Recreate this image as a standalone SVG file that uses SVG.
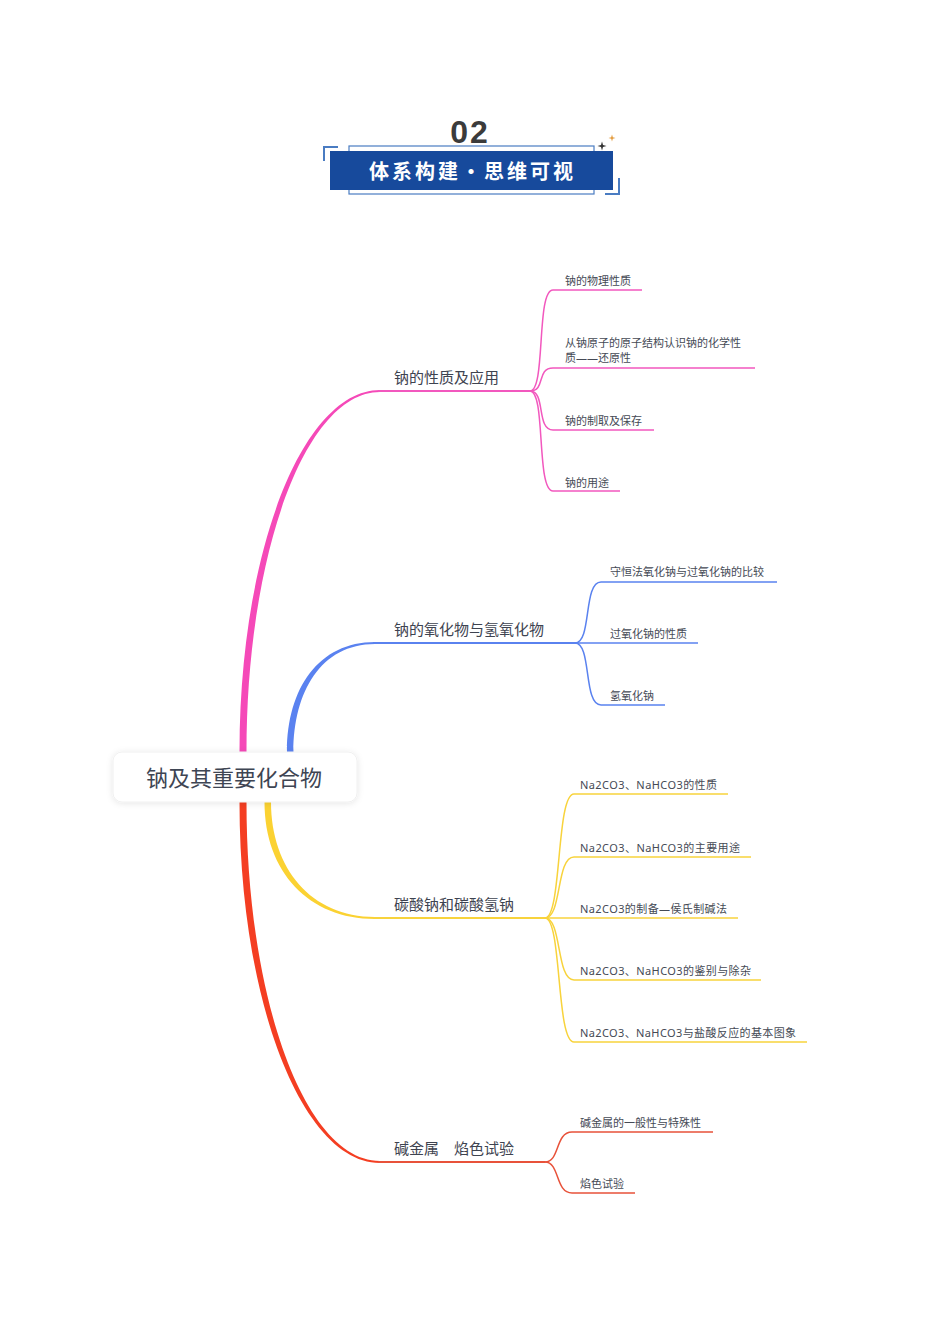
<svg xmlns="http://www.w3.org/2000/svg" width="950" height="1344" viewBox="0 0 950 1344">
<defs>
<style>
.l1{font-family:"Noto Sans CJK SC","Noto Sans",sans-serif;font-size:15px;fill:#3e4350}
.l2{font-family:"Noto Sans","Noto Sans CJK SC",sans-serif;font-size:11px;fill:#454a55}
.pk{stroke:#f258be;fill:none}
.bl{stroke:#5a82ef;fill:none}
.yl{stroke:#f8d33c;fill:none}
.rd{stroke:#e8523a;fill:none}
.w2{stroke-width:2}
.w15{stroke-width:1.5}
.brk{stroke:#4a7cc2;stroke-width:2;fill:none}
</style>
<filter id="sh" x="-10%" y="-30%" width="120%" height="160%">
<feDropShadow dx="0" dy="1" stdDeviation="3" flood-color="#000" flood-opacity="0.10"/>
</filter>
</defs>
<rect width="950" height="1344" fill="#fff"/>

<g id="header">
<text x="470" y="143" text-anchor="middle" font-family="Liberation Sans, sans-serif" font-weight="bold" font-size="32" letter-spacing="2" fill="#3b3b3b">02</text>
<rect x="349" y="146" width="245" height="48" fill="none" stroke="#4a7cc2" stroke-width="1.2"/>
<rect x="330" y="151" width="283" height="39" fill="#174a9c"/>
<path class="brk" d="M324,161 V147 H338"/>
<path class="brk" d="M619,178 V194 H605"/>
<path d="M602,141.5 L603,145 L606.5,146 L603,147 L602,150.5 L601,147 L597.5,146 L601,145 Z" fill="#333"/>
<path d="M612,134.5 L612.8,137.2 L615.5,138 L612.8,138.8 L612,141.5 L611.2,138.8 L608.5,138 L611.2,137.2 Z" fill="#e39a3b"/>
<text x="369" y="178.5" font-family="Noto Sans CJK SC, sans-serif" font-weight="bold" font-size="20" letter-spacing="3" fill="#fff">体系构建・思维可视</text>
</g>

<g id="connectors">
<path d="M239.5,752 C239.5,551 303,390 380,390 L380,392 C305,392 246.5,555 246.5,752 Z" fill="#f549b8"/>
<path d="M287,752 C287,688 319,642 375,642 L375,644 C321,644 293.5,692 293.5,752 Z" fill="#5a82f0"/>
<path d="M264.5,802 C264.5,872 309,919 375,919 L375,917 C311,917 271,868 271,802 Z" fill="#fbd232"/>
<path d="M239.5,802 C239.5,1003 303,1163 380,1163 L380,1161 C305,1161 246.5,999 246.5,802 Z" fill="#f43e22"/>

<path class="pk w2" d="M378,391 H530"/>
<path class="bl w2" d="M373,643 H578"/>
<path class="yl w2" d="M373,918 H545"/>
<path class="rd w2" d="M378,1162 H545"/>

<path class="pk w15" d="M530,391 C546,391 536,290 553,290 H642"/>
<path class="pk w15" d="M530,391 C546,391 536,368 553,368 H755"/>
<path class="pk w15" d="M530,391 C546,391 536,430 553,430 H654"/>
<path class="pk w15" d="M530,391 C546,391 536,491 553,491 H620"/>

<path class="bl w15" d="M575,643 C592,643 583,582 601,582 H777"/>
<path class="bl w15" d="M575,643 H698"/>
<path class="bl w15" d="M575,643 C592,643 583,705 601,705 H665"/>

<path class="yl w15" d="M545,918 C562,918 556,794 574,794 H728"/>
<path class="yl w15" d="M545,918 C562,918 556,857 574,857 H751"/>
<path class="yl w15" d="M545,918 H738"/>
<path class="yl w15" d="M545,918 C562,918 556,980 574,980 H761"/>
<path class="yl w15" d="M545,918 C562,918 556,1042 574,1042 H807"/>

<path class="rd w15" d="M545,1162 C560,1162 555,1132 572,1132 H713"/>
<path class="rd w15" d="M545,1162 C560,1162 555,1193 572,1193 H635"/>
</g>

<g id="root">
<rect x="113" y="752" width="244" height="50" rx="9" fill="#fff" stroke="#f0f0f0" stroke-width="1" filter="url(#sh)"/>
<text x="234" y="786" text-anchor="middle" font-family="Noto Sans CJK SC, sans-serif" font-size="22" fill="#3e4553">钠及其重要化合物</text>
</g>

<g id="n1"><text class="l1" x="394" y="383">钠的性质及应用</text></g>
<g id="n1a"><text class="l2" x="565" y="285">钠的物理性质</text></g>
<g id="n1b"><text class="l2" x="565" y="347">从钠原子的原子结构认识钠的化学性</text><text class="l2" x="565" y="362">质——还原性</text></g>
<g id="n1c"><text class="l2" x="565" y="425">钠的制取及保存</text></g>
<g id="n1d"><text class="l2" x="565" y="487">钠的用途</text></g>

<g id="n2"><text class="l1" x="394" y="635">钠的氧化物与氢氧化物</text></g>
<g id="n2a"><text class="l2" x="610" y="576">守恒法氧化钠与过氧化钠的比较</text></g>
<g id="n2b"><text class="l2" x="610" y="638">过氧化钠的性质</text></g>
<g id="n2c"><text class="l2" x="610" y="700">氢氧化钠</text></g>

<g id="n3"><text class="l1" x="394" y="910">碳酸钠和碳酸氢钠</text></g>
<g id="n3a"><text class="l2" x="580" y="789" textLength="137" lengthAdjust="spacing">Na2CO3、NaHCO3的性质</text></g>
<g id="n3b"><text class="l2" x="580" y="852" textLength="160" lengthAdjust="spacing">Na2CO3、NaHCO3的主要用途</text></g>
<g id="n3c"><text class="l2" x="580" y="913" textLength="147" lengthAdjust="spacing">Na2CO3的制备—侯氏制碱法</text></g>
<g id="n3d"><text class="l2" x="580" y="975" textLength="171" lengthAdjust="spacing">Na2CO3、NaHCO3的鉴别与除杂</text></g>
<g id="n3e"><text class="l2" x="580" y="1037" textLength="216" lengthAdjust="spacing">Na2CO3、NaHCO3与盐酸反应的基本图象</text></g>

<g id="n4"><text class="l1" x="394" y="1154">碱金属　焰色试验</text></g>
<g id="n4a"><text class="l2" x="580" y="1127">碱金属的一般性与特殊性</text></g>
<g id="n4b"><text class="l2" x="580" y="1188">焰色试验</text></g>
</svg>
